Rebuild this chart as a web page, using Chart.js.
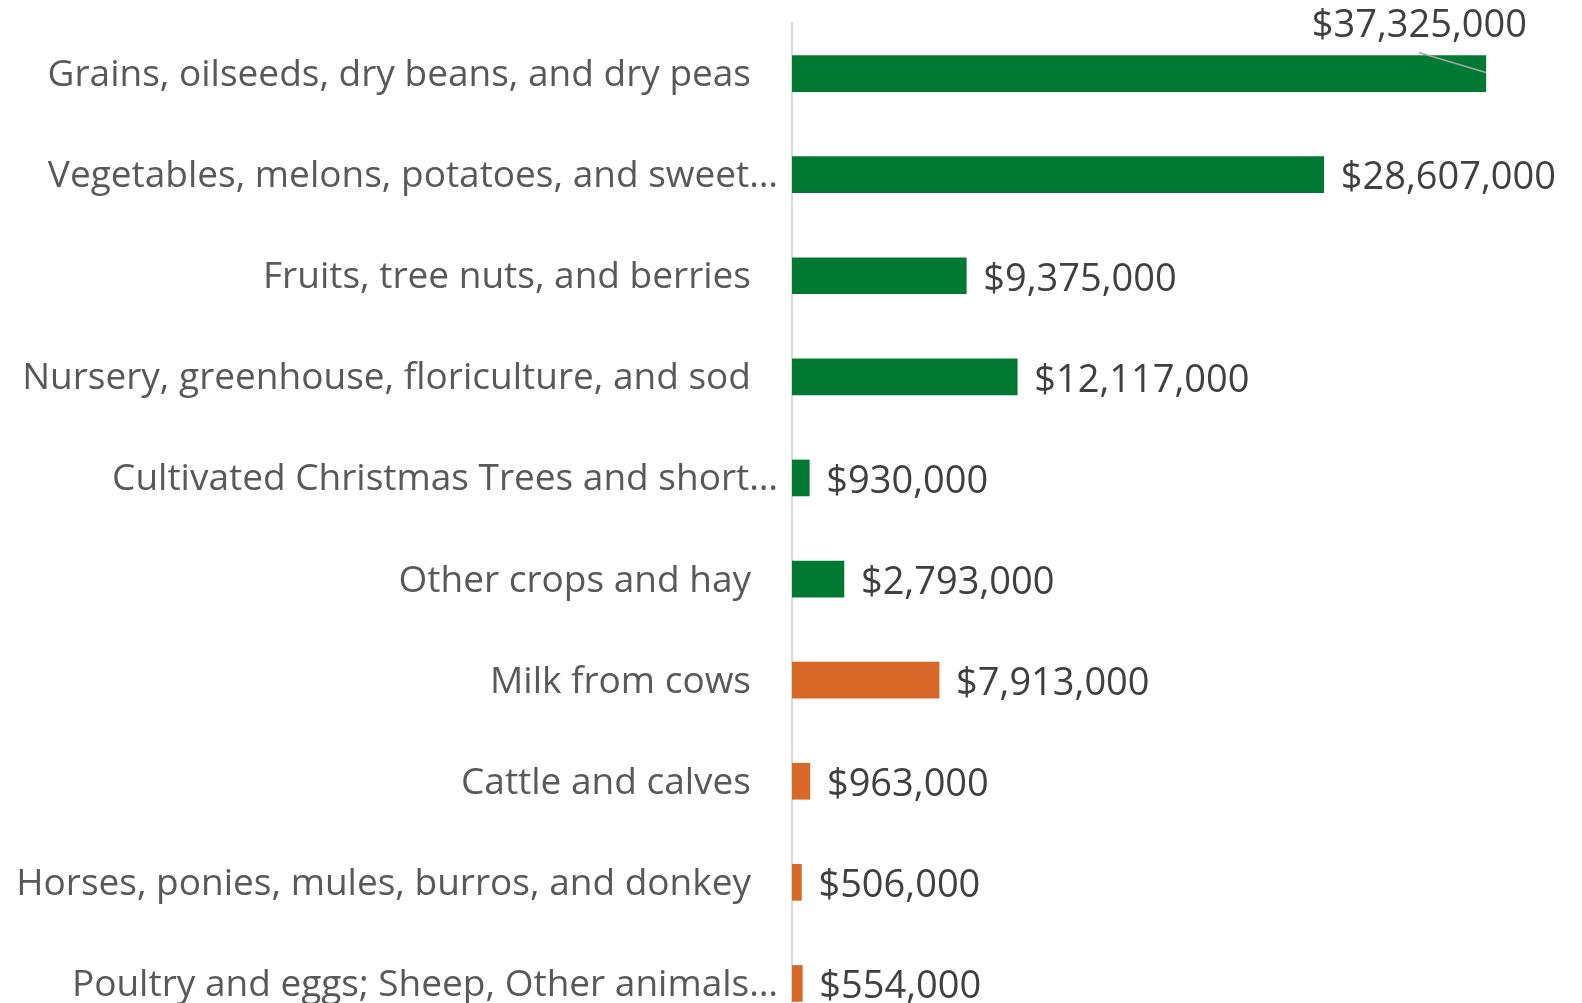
<!DOCTYPE html>
<html>
<head>
<meta charset="utf-8">
<script src="https://cdn.jsdelivr.net/npm/chart.js@4"></script>
<style>
  html, body { margin: 0; padding: 0; background: #fff; overflow: hidden; }
  #wrap { width: 1582px; height: 1040px; position: relative; }
</style>
</head>
<body>
<div id="wrap"><canvas id="farmChart"></canvas></div>
<script>
const categories = [
    'Grains, oilseeds, dry beans, and dry peas',
    'Vegetables, melons, potatoes, and sweet\u2026',
    'Fruits, tree nuts, and berries',
    'Nursery, greenhouse, floriculture, and sod',
    'Cultivated Christmas Trees and short\u2026',
    'Other crops and hay',
    'Milk from cows',
    'Cattle and calves',
    'Horses, ponies, mules, burros, and donkey',
    'Poultry and eggs; Sheep, Other animals\u2026'
];
const salesValues = [37325000, 28607000, 9375000, 12117000, 930000, 2793000, 7913000, 963000, 506000, 554000];
const barColors = ['#007A33', '#007A33', '#007A33', '#007A33', '#007A33', '#007A33',
                   '#D86827', '#D86827', '#D86827', '#D86827'];

const FONT = '"Open Sans", sans-serif';

function money(v) {
    return '$' + v.toLocaleString('en-US');
}

// draws category names left of the axis and value labels right of each bar
const labelPlugin = {
    id: 'labelPlugin',
    afterDatasetsDraw(chart) {
        const ctx = chart.ctx;
        const yScale = chart.scales.y;
        const area = chart.chartArea;
        const meta = chart.getDatasetMeta(0);
        ctx.save();
        ctx.textBaseline = 'middle';

        // category labels
        ctx.font = '37px ' + FONT;
        ctx.fillStyle = '#595959';
        ctx.textAlign = 'right';
        categories.forEach((name, i) => {
            const y = yScale.getPixelForValue(i);
            const truncated = name.endsWith('\u2026');
            ctx.fillText(name, area.left - (truncated ? 14 : 41), y + 2);
        });

        // value labels
        ctx.font = '38px ' + FONT;
        ctx.fillStyle = '#404040';
        ctx.textAlign = 'left';
        meta.data.forEach((bar, i) => {
            const txt = money(salesValues[i]);
            if (i === 0) {
                // label pulled above the bar, with a leader line
                ctx.strokeStyle = '#A6A6A6';
                ctx.lineWidth = 1.5;
                ctx.beginPath();
                ctx.moveTo(bar.x - 67, bar.y - 21);
                ctx.lineTo(bar.x, bar.y - 1);
                ctx.stroke();
                ctx.fillText(txt, bar.x - 174, bar.y - 47);
            } else {
                ctx.fillText(txt, bar.x + 17, bar.y + 4);
            }
        });
        ctx.restore();
    }
};

new Chart(document.getElementById('farmChart'), {
    type: 'bar',
    data: {
        labels: categories,
        datasets: [{
            data: salesValues,
            backgroundColor: barColors,
            borderWidth: 0,
            barThickness: 36
        }]
    },
    options: {
        indexAxis: 'y',
        responsive: true,
        maintainAspectRatio: false,
        animation: false,
        layout: { padding: { left: 792, top: 23, right: 0, bottom: 6 } },
        plugins: {
            legend: { display: false },
            tooltip: { enabled: false }
        },
        scales: {
            x: {
                min: 0,
                max: 42500000,
                display: false
            },
            y: {
                grid: { display: false, drawTicks: false },
                border: { display: true, color: '#D9D9D9', width: 2 },
                ticks: { display: false }
            }
        }
    },
    plugins: [labelPlugin]
});
</script>
</body>
</html>
